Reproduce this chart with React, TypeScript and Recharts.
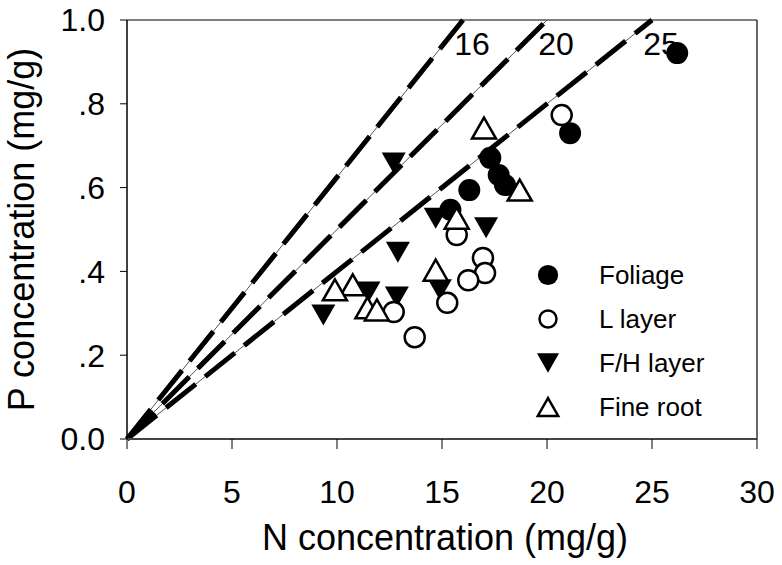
import React from 'react';
import { ScatterChart, Scatter, XAxis, YAxis, ReferenceLine, ReferenceDot, Legend } from 'recharts';

const FONT = '"Liberation Sans", Arial, Helvetica, sans-serif';

const xTicks = [0, 5, 10, 15, 20, 25, 30];
const yTicks = [0, 0.2, 0.4, 0.6, 0.8, 1.0];
// N:P ratio lines through the origin
const ratios = [16, 20, 25];

const foliage = [
  { n: 26.2, p: 0.921 },
  { n: 21.1, p: 0.73 },
  { n: 17.3, p: 0.671 },
  { n: 17.7, p: 0.63 },
  { n: 18.0, p: 0.606 },
  { n: 16.3, p: 0.594 },
  { n: 15.4, p: 0.547 },
];

const lLayer = [
  { n: 20.7, p: 0.773 },
  { n: 15.7, p: 0.487 },
  { n: 16.95, p: 0.432 },
  { n: 17.05, p: 0.396 },
  { n: 16.25, p: 0.379 },
  { n: 15.25, p: 0.325 },
  { n: 12.7, p: 0.303 },
  { n: 13.7, p: 0.243 },
];

const fhLayer = [
  { n: 12.7, p: 0.659 },
  { n: 14.7, p: 0.527 },
  { n: 17.1, p: 0.504 },
  { n: 12.9, p: 0.446 },
  { n: 14.9, p: 0.356 },
  { n: 12.85, p: 0.339 },
  { n: 11.5, p: 0.351 },
  { n: 9.35, p: 0.296 },
];

const fineRoot = [
  { n: 17.0, p: 0.742 },
  { n: 18.7, p: 0.594 },
  { n: 15.7, p: 0.527 },
  { n: 14.7, p: 0.403 },
  { n: 10.75, p: 0.368 },
  { n: 9.9, p: 0.356 },
  { n: 11.45, p: 0.313 },
  { n: 11.9, p: 0.308 },
];

const series = [
  { name: 'Foliage', data: foliage, kind: 'circle', filled: true },
  { name: 'F/H layer', data: fhLayer, kind: 'down', filled: true },
  { name: 'L layer', data: lLayer, kind: 'circle', filled: false },
  { name: 'Fine root', data: fineRoot, kind: 'up', filled: false },
];
const legendOrder = ['Foliage', 'L layer', 'F/H layer', 'Fine root'];

function Marker({ cx, cy, kind, filled, s = 1 }: any) {
  const fill = filled ? '#000' : '#fff';
  const sw = filled ? 0 : 2.5;
  if (kind === 'circle') {
    const r = (filled ? 11 : 10) * s;
    return <circle cx={cx} cy={cy} r={r} fill={fill} stroke="#000" strokeWidth={sw} />;
  }
  const w = 12 * s;
  const h = 10.5 * s;
  const pts = kind === 'down'
    ? `${cx - w},${cy - h} ${cx + w},${cy - h} ${cx},${cy + h}`
    : `${cx},${cy - h} ${cx + w},${cy + h} ${cx - w},${cy + h}`;
  return <polygon points={pts} fill={fill} stroke="#000" strokeWidth={sw} strokeLinejoin="miter" />;
}

const fmtY = (v: number) => (v === 0 ? '0.0' : v === 1 ? '1.0' : String(v).replace(/^0/, ''));

const XTitle = (props: any) => {
  const vb = props.viewBox;
  return (
    <text x={vb.x + vb.width / 2 + 3} y={vb.y + 111} textAnchor="middle"
      style={{ fontFamily: FONT, fontSize: 36, fill: '#000' }}>
      N concentration (mg/g)
    </text>
  );
};

const YTitle = (props: any) => {
  const vb = props.viewBox;
  const cx = 34;
  const cy = vb.y + vb.height / 2;
  return (
    <text x={cx} y={cy} textAnchor="middle" transform={`rotate(-90 ${cx} ${cy})`}
      style={{ fontFamily: FONT, fontSize: 36, fill: '#000' }}>
      P concentration (mg/g)
    </text>
  );
};

const RatioLabel = (value: number) => (props: any) => {
  const vb = props.viewBox;
  return (
    <text x={vb.x + vb.width / 2 + 9} y={vb.y + vb.height / 2 + 35} textAnchor="middle"
      style={{ fontFamily: FONT, fontSize: 32, fill: '#000' }}>
      {value}
    </text>
  );
};

const renderLegend = (props: any) => {
  const items = [...(props.payload || [])].sort(
    (a: any, b: any) => legendOrder.indexOf(a.value) - legendOrder.indexOf(b.value));
  return (
    <div style={{ fontFamily: FONT, fontSize: 26, color: '#000' }}>
      {items.map((it: any) => {
        const s = series.find(x => x.name === it.value)!;
        return (
          <div key={it.value} style={{ display: 'flex', alignItems: 'center', height: 44 }}>
            <svg width={26} height={26} style={{ display: 'block' }}>
              <Marker cx={13} cy={13} kind={s.kind} filled={s.filled} s={s.filled ? 0.92 : 0.85} />
            </svg>
            <span style={{ marginLeft: 38 }}>{it.value}</span>
          </div>
        );
      })}
    </div>
  );
};

export default function App() {
  return (
    <div style={{ position: 'absolute', left: 0, top: 0, background: '#fff' }}>
      <ScatterChart width={782} height={565} margin={{ top: 20, right: 25, bottom: 0, left: 0 }}>
        <XAxis type="number" dataKey="n" domain={[0, 30]} ticks={xTicks} interval={0}
          height={126} tickSize={10} tickMargin={31}
          axisLine={{ stroke: '#444', strokeWidth: 2 }} tickLine={{ stroke: '#000' }}
          tick={{ fill: '#000', fontSize: 32, fontFamily: FONT }}
          label={<XTitle />} />
        <YAxis type="number" dataKey="p" domain={[0, 1]} ticks={yTicks} interval={0}
          width={127} tickSize={7} tickMargin={15} tickFormatter={fmtY}
          axisLine={{ stroke: '#000', strokeWidth: 1.5 }} tickLine={{ stroke: '#000' }}
          tick={{ fill: '#000', fontSize: 32, fontFamily: FONT }}
          label={<YTitle />} />
        <ReferenceLine y={1} stroke="#000" strokeWidth={1.2} />
        <ReferenceLine x={30} stroke="#000" strokeWidth={1.2} />
        {ratios.map(r => (
          <ReferenceLine key={`t${r}`} segment={[{ x: 0, y: 0 }, { x: r, y: 1 }]}
            stroke="#555" strokeWidth={1} />
        ))}
        {ratios.map(r => (
          <ReferenceLine key={`d${r}`} segment={[{ x: 0, y: 0 }, { x: r, y: 1 }]}
            stroke="#000" strokeWidth={5} strokeDasharray="38 12" />
        ))}
        {ratios.map(r => (
          <ReferenceDot key={`l${r}`} x={r} y={1} r={0} stroke="none" fill="none"
            label={{ content: RatioLabel(r) }} />
        ))}
        {series.map(s => (
          <Scatter key={s.name} name={s.name} data={s.data} isAnimationActive={false}
            shape={(p: any) => <Marker cx={p.cx} cy={p.cy} kind={s.kind} filled={s.filled} />} />
        ))}
        <Legend content={renderLegend} layout="horizontal" verticalAlign="middle" align="center"
          wrapperStyle={{ position: 'absolute', left: 535, top: 253, width: 200, height: 180 }} />
      </ScatterChart>
    </div>
  );
}
